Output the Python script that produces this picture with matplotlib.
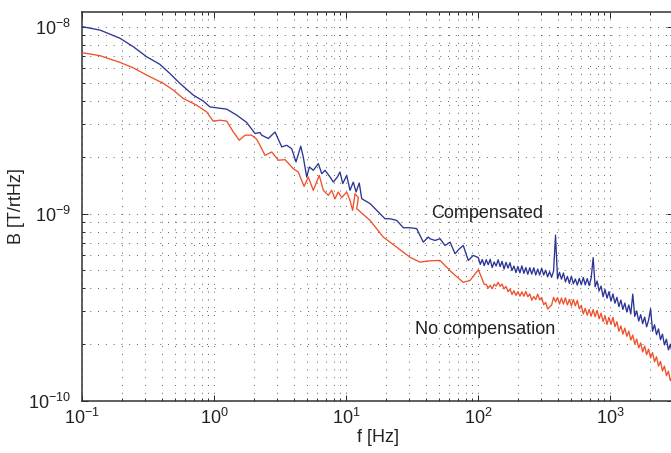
import numpy as np
import matplotlib
matplotlib.use("Agg")
import matplotlib.pyplot as plt

plt.rcParams['font.family'] = ['Liberation Sans', 'DejaVu Sans']
plt.rcParams['mathtext.fontset'] = 'custom'
plt.rcParams['mathtext.rm'] = 'Liberation Sans'
plt.rcParams['mathtext.it'] = 'Liberation Sans:italic'

# ---------------- data (log10 values) ----------------
# low / mid band, "Compensated" (blue)
comp_low_log_f = [-1.000, -0.866, -0.714, -0.614, -0.512, -0.413, -0.337, -0.261, -0.159, -0.083,
                  -0.033, 0.018, 0.094, 0.170, 0.245, 0.308, 0.346, 0.359, 0.409, 0.460,
                  0.511, 0.548, 0.586, 0.619, 0.655, 0.674, 0.700, 0.720, 0.750, 0.788,
                  0.814, 0.839, 0.877, 0.902, 0.932, 0.952, 0.973, 1.003, 1.028, 1.053,
                  1.074, 1.098, 1.117, 1.180, 1.230, 1.293, 1.331, 1.382, 1.432, 1.483,
                  1.533, 1.583, 1.621, 1.634, 1.672, 1.710, 1.748, 1.786, 1.824, 1.856,
                  1.886, 1.924, 1.962]
comp_low_log_B = [-8.000, -8.018, -8.062, -8.107, -8.161, -8.201, -8.250, -8.303, -8.366, -8.398,
                  -8.429, -8.434, -8.441, -8.473, -8.512, -8.571, -8.566, -8.580, -8.598, -8.563,
                  -8.643, -8.634, -8.652, -8.723, -8.639, -8.697, -8.804, -8.750, -8.768, -8.732,
                  -8.786, -8.768, -8.804, -8.831, -8.804, -8.777, -8.839, -8.795, -8.875, -8.831,
                  -8.884, -8.836, -8.920, -8.946, -8.982, -9.027, -9.027, -9.036, -9.075, -9.075,
                  -9.080, -9.152, -9.125, -9.134, -9.143, -9.134, -9.170, -9.152, -9.214, -9.188,
                  -9.170, -9.250, -9.223]

# low / mid band, "No compensation" (red)
nocomp_low_log_f = [-1.000, -0.866, -0.714, -0.614, -0.512, -0.386, -0.311, -0.235, -0.133, -0.058,
                    -0.008, 0.043, 0.094, 0.144, 0.189, 0.233, 0.283, 0.321, 0.346, 0.384,
                    0.435, 0.485, 0.536, 0.598, 0.636, 0.680, 0.712, 0.750, 0.795, 0.826,
                    0.864, 0.889, 0.914, 0.939, 0.965, 1.003, 1.028, 1.048, 1.066, 1.091,
                    1.079, 1.180, 1.280, 1.382, 1.483, 1.558, 1.634, 1.710, 1.798, 1.886,
                    1.937]
nocomp_low_log_B = [-8.139, -8.155, -8.191, -8.220, -8.259, -8.303, -8.339, -8.384, -8.420, -8.456,
                    -8.505, -8.500, -8.505, -8.563, -8.607, -8.580, -8.580, -8.602, -8.634, -8.688,
                    -8.670, -8.714, -8.711, -8.759, -8.777, -8.854, -8.804, -8.875, -8.795, -8.875,
                    -8.902, -8.875, -8.920, -8.884, -8.914, -8.884, -8.929, -8.982, -8.893, -8.914,
                    -8.973, -9.036, -9.125, -9.179, -9.233, -9.259, -9.252, -9.250, -9.313, -9.367,
                    -9.357]

# high band (shared frequency samples)
high_log_f = [2.000, 2.015, 2.030, 2.045, 2.060, 2.075, 2.090, 2.105, 2.120, 2.135,
              2.150, 2.165, 2.180, 2.195, 2.210, 2.225, 2.240, 2.255, 2.270, 2.285,
              2.300, 2.315, 2.330, 2.345, 2.360, 2.375, 2.390, 2.405, 2.420, 2.435,
              2.450, 2.465, 2.480, 2.495, 2.510, 2.525, 2.540, 2.555, 2.570, 2.585,
              2.600, 2.615, 2.630, 2.645, 2.660, 2.675, 2.690, 2.705, 2.720, 2.735,
              2.750, 2.765, 2.780, 2.795, 2.810, 2.825, 2.840, 2.855, 2.870, 2.885,
              2.900, 2.915, 2.930, 2.945, 2.960, 2.975, 2.990, 3.005, 3.020, 3.035,
              3.050, 3.065, 3.080, 3.095, 3.110, 3.125, 3.140, 3.155, 3.170, 3.185,
              3.200, 3.215, 3.230, 3.245, 3.260, 3.275, 3.290, 3.305, 3.320, 3.335,
              3.350, 3.365, 3.380, 3.395, 3.410, 3.425, 3.440, 3.455, 3.470]
comp_high_log_B = [-9.235, -9.271, -9.245, -9.278, -9.246, -9.273, -9.244, -9.288, -9.258, -9.280,
                   -9.246, -9.283, -9.255, -9.296, -9.260, -9.291, -9.262, -9.304, -9.280, -9.315,
                   -9.282, -9.316, -9.279, -9.319, -9.288, -9.324, -9.289, -9.323, -9.289, -9.328,
                   -9.296, -9.328, -9.291, -9.328, -9.302, -9.338, -9.310, -9.340, -9.307, -9.115,
                   -9.348, -9.314, -9.350, -9.317, -9.365, -9.335, -9.373, -9.334, -9.375, -9.349,
                   -9.382, -9.346, -9.380, -9.341, -9.381, -9.347, -9.384, -9.345, -9.235, -9.391,
                   -9.360, -9.413, -9.387, -9.444, -9.405, -9.452, -9.417, -9.468, -9.429, -9.479,
                   -9.447, -9.497, -9.462, -9.512, -9.478, -9.526, -9.488, -9.536, -9.430, -9.549,
                   -9.520, -9.574, -9.540, -9.588, -9.553, -9.605, -9.569, -9.508, -9.628, -9.594,
                   -9.647, -9.616, -9.674, -9.644, -9.702, -9.671, -9.728, -9.698, -9.751]
nocomp_high_log_B = [-9.300, -9.325, -9.352, -9.378, -9.378, -9.398, -9.383, -9.402, -9.377, -9.387,
                     -9.367, -9.388, -9.376, -9.402, -9.389, -9.417, -9.403, -9.432, -9.412, -9.437,
                     -9.417, -9.441, -9.418, -9.441, -9.416, -9.444, -9.429, -9.463, -9.443, -9.459,
                     -9.430, -9.461, -9.448, -9.487, -9.474, -9.510, -9.499, -9.489, -9.447, -9.471,
                     -9.448, -9.483, -9.451, -9.483, -9.450, -9.488, -9.458, -9.493, -9.459, -9.493,
                     -9.463, -9.509, -9.490, -9.536, -9.506, -9.543, -9.512, -9.548, -9.513, -9.551,
                     -9.517, -9.562, -9.532, -9.577, -9.547, -9.592, -9.554, -9.592, -9.554, -9.604,
                     -9.578, -9.629, -9.600, -9.644, -9.612, -9.656, -9.628, -9.676, -9.649, -9.697,
                     -9.670, -9.718, -9.691, -9.739, -9.708, -9.754, -9.724, -9.771, -9.743, -9.792,
                     -9.765, -9.815, -9.790, -9.841, -9.815, -9.866, -9.842, -9.893, -9.868]

series_labels = ["Compensated", "No compensation"]
series_colors = ["#2b3594", "#f0502a"]

x_label = "f [Hz]"
y_label = "B [T/rtHz]"

# ---------------- figure ----------------
W, H = 671, 453
fig = plt.figure(figsize=(W / 100, H / 100), dpi=100)
ax = fig.add_axes([82.3 / W, (H - 400.7) / H, (673.3 - 82.3) / W, (400.7 - 12.3) / H])

f_comp = 10 ** np.concatenate([comp_low_log_f, high_log_f])
B_comp = 10 ** np.concatenate([comp_low_log_B, comp_high_log_B])
f_nocomp = 10 ** np.concatenate([nocomp_low_log_f, high_log_f])
B_nocomp = 10 ** np.concatenate([nocomp_low_log_B, nocomp_high_log_B])

ax.plot(f_nocomp, B_nocomp, color=series_colors[1], lw=0.95, zorder=3)
ax.plot(f_comp, B_comp, color=series_colors[0], lw=0.95, zorder=4)

ax.set_xscale('log')
ax.set_yscale('log')
ax.set_xlim(0.1, 3000)
ax.set_ylim(1e-10, 10 ** -7.923)

grid_kw = dict(color='#444444', linestyle=(0, (1, 7)), linewidth=0.7, alpha=0.85)
ax.grid(True, which='major', **grid_kw)
ax.grid(True, which='minor', **grid_kw)
ax.set_axisbelow(True)

ax.tick_params(which='both', direction='in', top=True, right=True, width=0.7, colors='#222222')
ax.tick_params(which='major', length=4.5, labelsize=13)
ax.tick_params(axis='x', which='major', pad=5)
ax.tick_params(axis='y', which='major', pad=8)
ax.tick_params(which='minor', length=2.2)
for s in ax.spines.values():
    s.set_linewidth(1.1)
    s.set_color('#333333')

ax.set_xlabel(x_label, fontsize=13, color='#222222', labelpad=1)
ax.set_ylabel(y_label, fontsize=13, color='#222222', labelpad=2)

ax.text(116, 10 ** -9.025, series_labels[0], fontsize=13, color='#222222',
        ha='center', va='baseline', zorder=5)
ax.text(112, 10 ** -9.643, series_labels[1], fontsize=13, color='#222222',
        ha='center', va='baseline', zorder=5)

fig.savefig("out.png", dpi=100)
